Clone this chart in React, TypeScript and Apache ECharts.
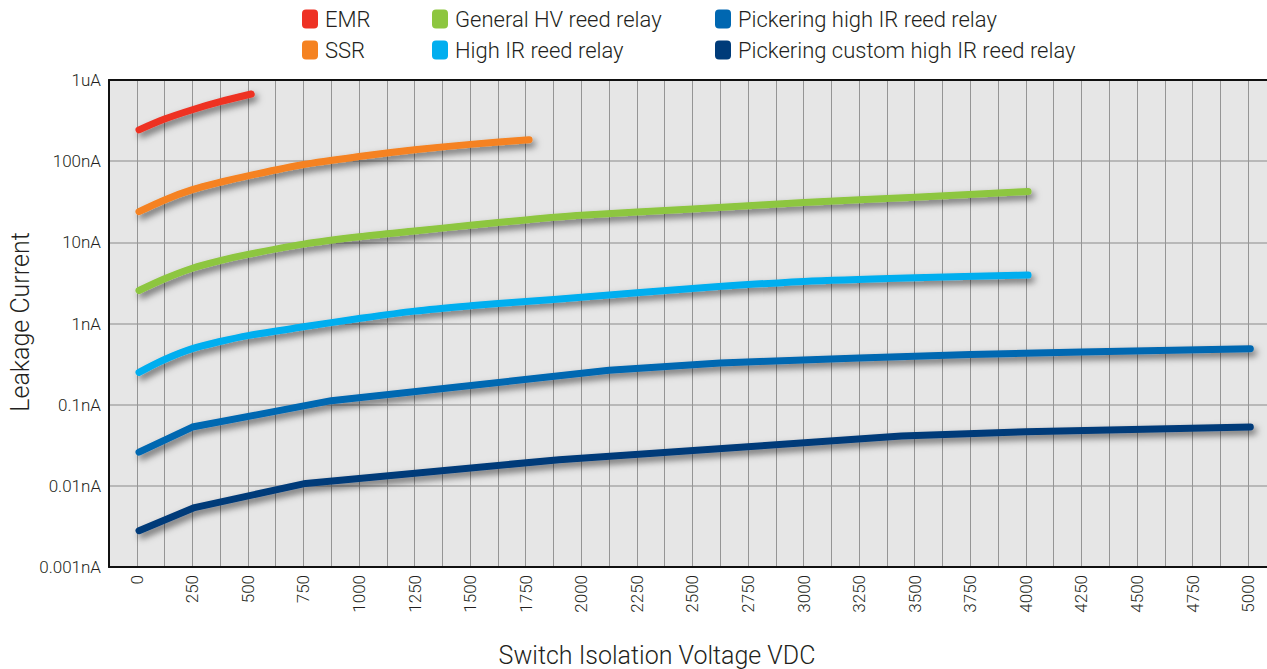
import React, { useEffect, useRef } from "react";
import * as echarts from "echarts";

// ---- Data (leakage current in nA vs switch isolation voltage in VDC) ----
const seriesNames = [
  "EMR",
  "SSR",
  "General HV reed relay",
  "High IR reed relay",
  "Pickering high IR reed relay",
  "Pickering custom high IR reed relay",
];
const seriesColors = ["#ee3124", "#f58220", "#8dc63f", "#00aeef", "#0067b1", "#003b79"];

const emr: [number, number][] = [[10, 243], [125, 330], [250, 430], [375, 540], [515, 672]];
const ssr: [number, number][] = [
  [10, 23.9], [125, 33.3], [250, 44.5], [375, 55], [500, 66], [750, 91], [1000, 114],
  [1250, 138], [1500, 161], [1765, 183],
];
const generalHv: [number, number][] = [
  [10, 2.55], [125, 3.56], [250, 4.8], [375, 5.95], [500, 7.1], [750, 9.5], [1000, 11.7],
  [1250, 13.8], [1500, 16.2], [1750, 18.9], [2000, 21.5], [2500, 25.8], [3000, 30.9],
  [3500, 36], [4010, 42.3],
];
const highIr: [number, number][] = [
  [10, 0.25], [125, 0.36], [250, 0.49], [375, 0.6], [500, 0.71], [750, 0.91],
  [1000, 1.15], [1250, 1.42], [1500, 1.65], [1750, 1.87], [2000, 2.1], [2500, 2.7],
  [3000, 3.3], [3500, 3.67], [4010, 3.95],
];
const pickeringHighIr: [number, number][] = [
  [10, 0.026], [250, 0.053], [875, 0.112], [2125, 0.265], [2625, 0.327], [3250, 0.377],
  [3750, 0.414], [4250, 0.447], [5010, 0.49],
];
const pickeringCustom: [number, number][] = [
  [10, 0.0028], [260, 0.0054], [760, 0.0107], [1900, 0.021], [3440, 0.041], [4000, 0.0465],
  [5010, 0.053],
];
const seriesData = [emr, ssr, generalHv, highIr, pickeringHighIr, pickeringCustom];
const seriesSmooth: (number | boolean)[] = [0.3, 0.3, 0.3, 0.3, false, false];

const yTickLabels = ["0.001nA", "0.01nA", "0.1nA", "1nA", "10nA", "100nA", "1uA"];
const xLabelStep = 250;
const xLabelMax = 5000;
const xAxisTitle = "Switch Isolation Voltage VDC";
const yAxisTitle = "Leakage Current";

const FONT = "Roboto";
const TEXT_COLOR = "#231f20";

export default function App() {
  const ref = useRef<HTMLDivElement>(null);

  useEffect(() => {
    if (!ref.current) return;
    const chart = echarts.init(ref.current, null, { renderer: "svg" });

    const legendCommon = {
      orient: "vertical" as const,
      top: 8,
      itemGap: 9,
      itemWidth: 16,
      itemHeight: 19,
      icon: "roundRect",
      selectedMode: false,
      padding: 0,
      textStyle: {
        fontFamily: FONT,
        fontSize: 22,
        fontWeight: 300,
        color: TEXT_COLOR,
        padding: [0, 0, 0, 2],
      },
      itemStyle: { shadowBlur: 0, shadowOffsetX: 0, shadowOffsetY: 0 },
    };

    const axisCommon = {
      type: "value" as const,
      min: -125,
      max: 5085,
      interval: 125,
    };

    chart.setOption({
      animation: false,
      backgroundColor: "#ffffff",
      textStyle: { fontFamily: FONT },
      grid: {
        left: 109,
        right: 0,
        top: 80,
        bottom: 102,
        show: true,
        backgroundColor: "#e6e6e6",
        borderWidth: 0,
        containLabel: false,
        outerBoundsMode: "none",
      },
      legend: [
        { ...legendCommon, left: 302, data: [seriesNames[0], seriesNames[1]] },
        { ...legendCommon, left: 432, data: [seriesNames[2], seriesNames[3]] },
        { ...legendCommon, left: 715, data: [seriesNames[4], seriesNames[5]] },
      ],
      xAxis: [
        {
          ...axisCommon,
          position: "bottom",
          axisLine: { show: true, onZero: false, lineStyle: { color: "#111", width: 2 } },
          axisTick: { show: false },
          splitLine: { show: true, lineStyle: { color: "#959595", width: 1 } },
          axisLabel: {
            rotate: 90,
            margin: 8,
            fontSize: 17,
            fontWeight: 300,
            fontFamily: FONT,
            color: TEXT_COLOR,
            showMinLabel: true,
            showMaxLabel: true,
            formatter: (v: number) =>
              v >= 0 && v <= xLabelMax && Math.round(v) % xLabelStep === 0 ? String(Math.round(v)) : "",
          },
        },
        {
          ...axisCommon,
          position: "top",
          axisLine: { show: true, onZero: false, lineStyle: { color: "#111", width: 2 } },
          axisTick: { show: false },
          axisLabel: { show: false },
          splitLine: { show: false },
        },
      ],
      yAxis: {
        type: "log",
        logBase: 10,
        min: 0.001,
        max: 1000,
        axisLine: { show: true, onZero: false, lineStyle: { color: "#111", width: 2 } },
        axisTick: { show: false },
        splitLine: { show: true, lineStyle: { color: "#a8a8a8", width: 1.5 } },
        axisLabel: {
          margin: 8,
          fontSize: 17,
          fontWeight: 300,
          fontFamily: FONT,
          color: TEXT_COLOR,
          showMinLabel: true,
          showMaxLabel: true,
          formatter: (v: number) => {
            const idx = Math.round(Math.log10(v)) + 3;
            return yTickLabels[idx] ?? "";
          },
        },
      },
      graphic: [
        {
          type: "text",
          x: 657,
          y: 655,
          style: {
            text: xAxisTitle,
            fontFamily: FONT,
            fontSize: 25,
            fontWeight: 300,
            fill: TEXT_COLOR,
            align: "center",
            verticalAlign: "middle",
          },
        },
        {
          type: "text",
          x: 20,
          y: 322,
          rotation: Math.PI / 2,
          style: {
            text: yAxisTitle,
            fontFamily: FONT,
            fontSize: 25,
            fontWeight: 300,
            fill: TEXT_COLOR,
            align: "center",
            verticalAlign: "middle",
          },
        },
      ],
      series: seriesNames.map((name, i) => ({
        name,
        type: "line",
        xAxisIndex: 0,
        data: seriesData[i],
        smooth: seriesSmooth[i],
        showSymbol: false,
        symbol: "none",
        color: seriesColors[i],
        itemStyle: { color: seriesColors[i] },
        lineStyle: {
          color: seriesColors[i],
          width: 7,
          cap: "round",
          join: "round",
          shadowColor: "rgba(0,0,0,0.55)",
          shadowBlur: 7,
          shadowOffsetX: 3,
          shadowOffsetY: 4,
        },
        z: 3,
      })),
    });

    return () => chart.dispose();
  }, []);

  return (
    <div
      ref={ref}
      style={{ position: "absolute", left: 0, top: 0, width: 1267, height: 669 }}
    />
  );
}
